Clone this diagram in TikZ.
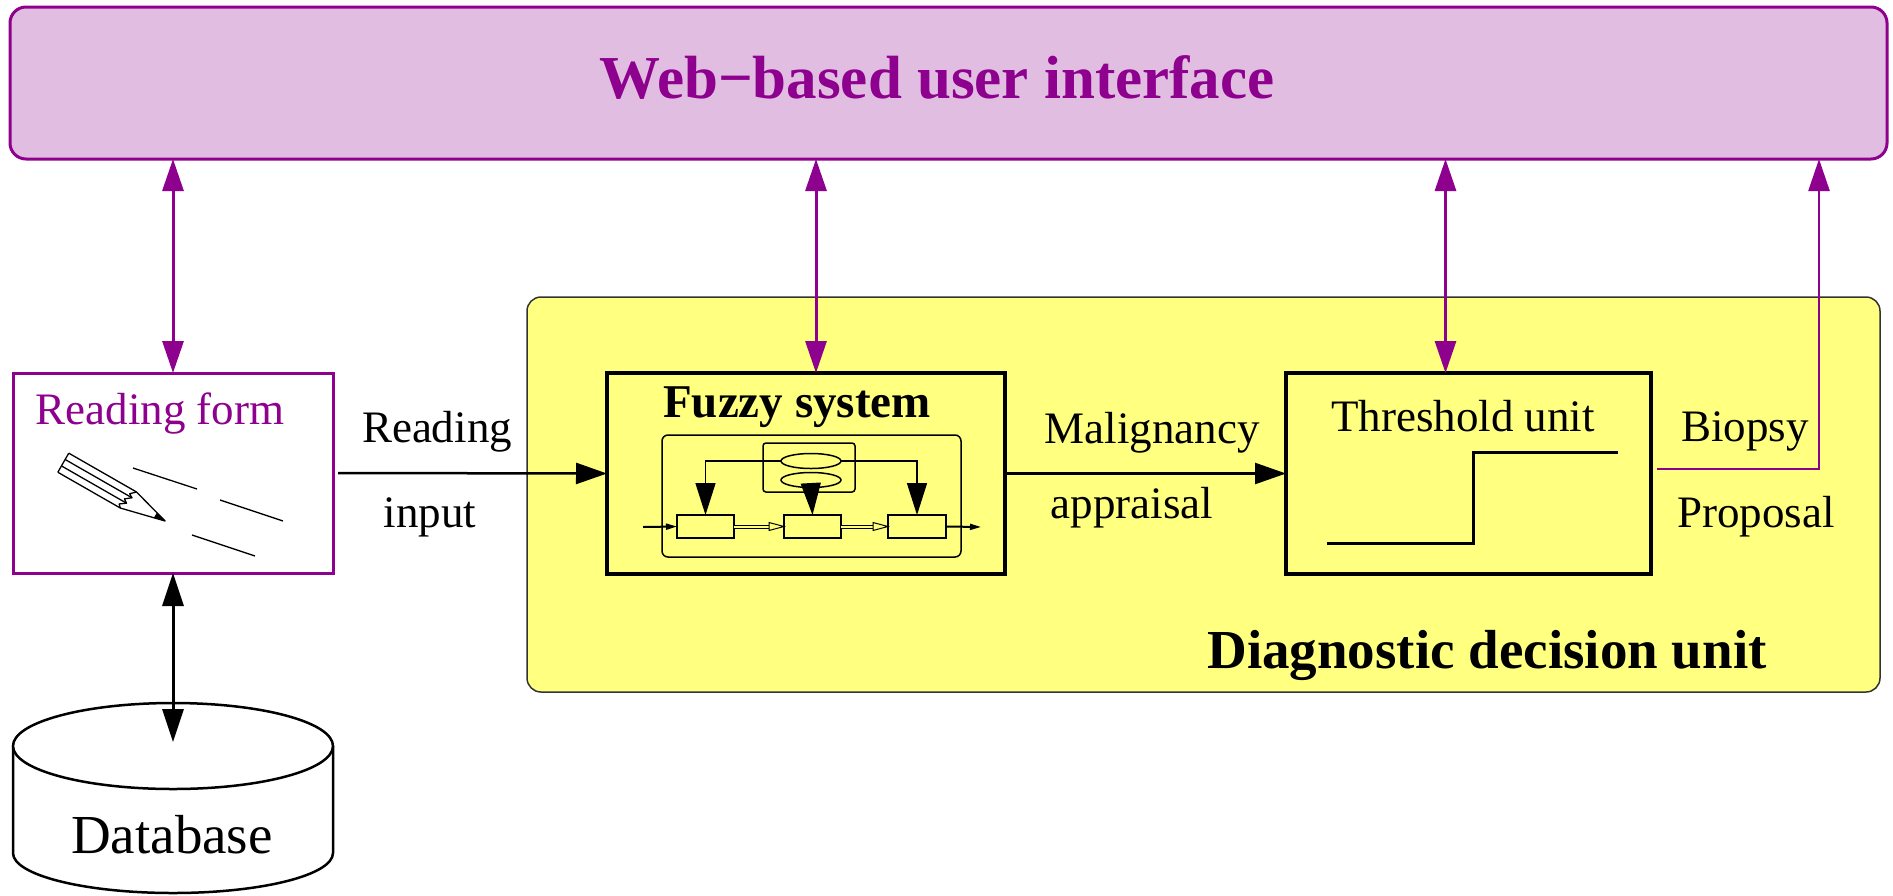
\documentclass[tikz,border=0pt]{standalone}
\usepackage{fontspec}
\setmainfont{Liberation Serif}
\usetikzlibrary{arrows.meta,calc,shapes.geometric}
\definecolor{plum}{HTML}{8E008E}
\definecolor{lilac}{HTML}{E1BEE1}
\definecolor{lemon}{HTML}{FFFF80}

\begin{document}
\begin{tikzpicture}[x=1pt,y=-1pt,
  every node/.style={inner sep=0pt, outer sep=0pt},
  frame/.style={draw, rectangle, anchor=north west, inner sep=0pt},
  regtext/.style={anchor=base, font=\fontsize{45}{54}\selectfont},
  boldtext/.style={anchor=base, font=\fontsize{#1}{#1}\selectfont\bfseries},
  bigtip/.style={Triangle[length=32pt,width=20pt]},
  plumlink/.style={draw=plum, line width=3pt, {Triangle[length=32pt,width=21pt]}-{Triangle[length=32pt,width=21pt]}},
  flowlink/.style={draw=black, line width=2.5pt, -{Triangle[length=31pt,width=21pt]}},
  innerlink/.style={draw=black, line width=1.5pt, -{Triangle[length=32pt,width=20pt]}},
  smalllink/.style={draw=black, line width=2pt, -{Triangle[length=11pt,width=6pt]}},
  hollowlink/.style={draw=black, line width=1pt, double=lemon, double distance=2pt},
  hollowhead/.style={draw=black, line width=1pt, fill=lemon},
  subbox/.style={frame, line width=1.5pt, minimum width=57pt, minimum height=23pt},
  rulering/.style={draw, ellipse, line width=1.5pt, minimum width=60pt, minimum height=15pt},
]
\useasboundingbox (0,0) rectangle (1893,895);

% ---- top bar: web interface
\node[frame, draw=plum, fill=lilac, line width=3pt, rounded corners=16pt,
      minimum width=1877pt, minimum height=152pt] (web) at (10,7) {};
\node[boldtext=61, text=plum] (webtitle) at (937,98) {Web−based user interface};

% ---- diagnostic decision unit (background panel)
\node[frame, fill=lemon, draw=black!80, line width=1.5pt, rounded corners=14pt,
      minimum width=1353pt, minimum height=395pt] (ddu) at (527,297) {};
\node[boldtext=55] (ddutitle) at (1487,668) {Diagnostic decision unit};

% ---- reading form
\node[frame, draw=plum, fill=white, line width=3pt,
      minimum width=320pt, minimum height=200pt] (rf) at (13,373) {};
\node[regtext, text=plum] (rftitle) at (160,424) {Reading form};

% pencil
\begin{scope}[shift={(63.3,462.7)}, rotate=-29.8, line width=1.3pt, line join=round]
  \draw (0,-11) -- (78,-11);
  \draw (0,11) -- (72,11);
  \draw (0,-11) -- (0,11);
  \draw (0,-3.7) -- (77,-3.7);
  \draw (0,3.7) -- (75,3.7);
  \draw (78,-11) -- (73,-6) -- (77,-3.7) -- (71,1) -- (75,3.7) -- (69,8) -- (72,11);
  \draw (78,-11) -- (117.3,0) -- (72,11);
  \fill (106,-3.1) -- (117.3,0) -- (106,2.7) -- cycle;
\end{scope}
% writing lines
\draw[line width=1.3pt] (133,468) -- (197,489);
\draw[line width=1.3pt] (220,500) -- (283,521);
\draw[line width=1.3pt] (192,535) -- (255,556);

% ---- database cylinder
\fill[white] (13,746) -- (13,853) arc[start angle=180, end angle=360, x radius=160pt, y radius=40pt] -- (333,746) -- cycle;
\draw[line width=2.5pt] (13,746) -- (13,853) arc[start angle=180, end angle=360, x radius=160pt, y radius=40pt] -- (333,746);
\draw[line width=2.5pt, fill=white] (173,746) ellipse[x radius=160pt, y radius=43pt];
\node[anchor=base, font=\fontsize{55}{60}\selectfont] (db) at (172,853) {Database};
\coordinate (dbtop) at (173,742);

% ---- fuzzy system
\node[frame, line width=3.5pt, minimum width=398pt, minimum height=201pt] (fz) at (607,373) {};
\node[boldtext=47] (fztitle) at (797,417) {Fuzzy system};
\node[frame, line width=1.5pt, rounded corners=6pt, minimum width=299pt, minimum height=122pt] (fzin) at (662,435) {};
\node[frame, line width=1.5pt, rounded corners=3pt, minimum width=92pt, minimum height=49pt] (rules) at (763,443) {};
\node[rulering] (e1) at (811,461) {};
\node[rulering] (e2) at (811,480) {};
\node[subbox] (b1) at (677,515) {};
\node[subbox] (b2) at (784,515) {};
\node[subbox, minimum width=58pt] (b3) at (888,515) {};
\coordinate (fzinput) at (643,527);
\coordinate (fzoutput) at (981,527);

\draw[innerlink] (e1.west) -| (b1.north);
\draw[innerlink] (e1.east) -| (b3.north);
\draw[innerlink] (e2.south) -- (b2.north);
\draw[smalllink] (fzinput) -- (b1.west);
\draw[smalllink] (b3.east) -- (fzoutput);
\draw[hollowlink] (b1.east) -- ([xshift=-14pt]b2.west);
\draw[hollowhead] ([xshift=-15pt,yshift=4pt]b2.west) -- (b2.west) -- ([xshift=-15pt,yshift=-4pt]b2.west) -- cycle;
\draw[hollowlink] (b2.east) -- ([xshift=-14pt]b3.west);
\draw[hollowhead] ([xshift=-15pt,yshift=4pt]b3.west) -- (b3.west) -- ([xshift=-15pt,yshift=-4pt]b3.west) -- cycle;

% ---- threshold unit
\node[frame, line width=3.5pt, minimum width=365pt, minimum height=201pt] (th) at (1286,373) {};
\node[regtext] (thtitle) at (1463,431) {Threshold unit};
\draw[line width=3pt] (1327,543) -- (1473,543) -- (1473,452) -- (1618,452);

% ---- data flow
\draw[flowlink] ([xshift=5pt]rf.east) -- (fz.west);
\node[regtext] (lreading) at (437,442) {Reading};
\node[regtext] (linput) at (430,527) {input};
\draw[flowlink] (fz.east) -- (th.west);
\node[regtext] (lmalig) at (1152,443) {Malignancy};
\node[regtext] (lappr) at (1132,518) {appraisal};
\node[regtext] (lbiopsy) at (1745,441) {Biopsy};
\node[regtext] (lprop) at (1756,527) {Proposal};

\draw[draw=black, line width=3pt, {Triangle[length=33pt,width=21pt]}-{Triangle[length=33pt,width=21pt]}] (rf.south) -- (dbtop);

% ---- links to the web interface
\coordinate (fzport) at ([xshift=10pt]fz.north);
\coordinate (thport) at ([xshift=-23pt]th.north);
\coordinate (bpout) at ([xshift=6pt,yshift=4.5pt]th.east);
\coordinate (bpup) at (1819,159);
\draw[plumlink] (rf.north |- web.south) -- (rf.north);
\draw[plumlink] (fzport |- web.south) -- (fzport);
\draw[plumlink] (thport |- web.south) -- (thport);
\draw[draw=plum, line width=2.5pt, -{Triangle[length=32pt,width=21pt]}] (bpout) -| (bpup);
\end{tikzpicture}
\end{document}
